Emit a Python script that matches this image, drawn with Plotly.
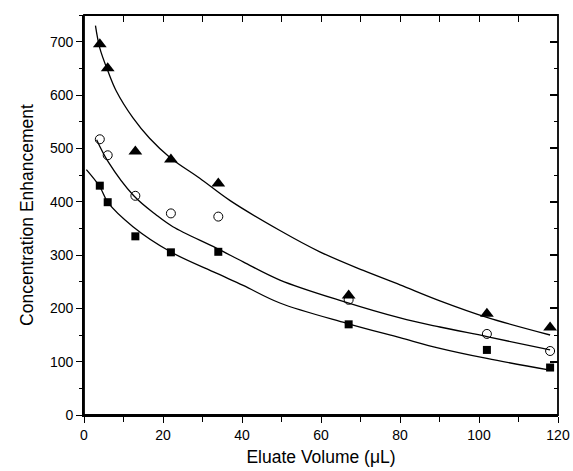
import plotly.graph_objects as go

# Measured points
vol = [4, 6, 13, 22, 34, 67, 102, 118]
tri_vals = [695, 650, 494, 479, 434, 224, 190, 164]
circ_vals = [517, 487, 411, 378, 372, 216, 152, 120]
sq_vals = [430, 399, 335, 305, 306, 170, 122, 89]

# Fitted curves
tri_fit_x = [2.9, 4.0, 6.1, 8.2, 12.4, 16.6, 21.9, 29.3, 37, 49.6, 59.7, 70.7, 80, 90.1, 102, 118]
tri_fit_y = [730, 688, 644, 607, 557, 519, 482, 444, 402, 346, 306, 271, 244, 214, 183, 150]
circ_fit_x = [3.2, 6.1, 12.6, 18.3, 22.5, 33.5, 40.3, 49.6, 65.6, 80, 90.1, 102, 118]
circ_fit_y = [516, 475, 411, 375, 353, 313, 287, 253, 213, 182, 165, 147, 122]
sq_fit_x = [0.6, 4.0, 6.1, 12.4, 21.9, 33.5, 40.3, 49.6, 66.5, 80, 90.1, 102, 118]
sq_fit_y = [460, 428, 398, 353, 306, 266, 243, 210, 172, 145, 125, 106, 84]

fig = go.Figure()

line_style = dict(color="black", width=1.3, shape="spline", smoothing=1.0)
for fx, fy in [(tri_fit_x, tri_fit_y), (circ_fit_x, circ_fit_y), (sq_fit_x, sq_fit_y)]:
    fig.add_trace(go.Scatter(x=fx, y=fy, mode="lines", line=line_style,
                             showlegend=False, hoverinfo="skip"))

fig.add_trace(go.Scatter(x=vol, y=tri_vals, mode="markers", showlegend=False,
                         marker=dict(symbol="triangle-up", size=12, color="black")))
fig.add_trace(go.Scatter(x=vol, y=circ_vals, mode="markers", showlegend=False,
                         marker=dict(symbol="circle-open", size=9, color="black",
                                     line=dict(width=1))))
fig.add_trace(go.Scatter(x=vol, y=sq_vals, mode="markers", showlegend=False,
                         marker=dict(symbol="square", size=8, color="black")))

# invisible trace to activate mirror axes
fig.add_trace(go.Scatter(x=[0], y=[0], xaxis="x2", yaxis="y2", mode="markers",
                         marker=dict(opacity=0), showlegend=False, hoverinfo="skip"))

tick_font = dict(family="Liberation Sans, Arial", size=14, color="black")
title_font = dict(family="Liberation Sans, Arial", size=17.5, color="black")

fig.update_layout(
    width=573, height=471,
    margin=dict(l=84, r=15, t=15, b=56),
    paper_bgcolor="white", plot_bgcolor="white",
    xaxis=dict(range=[0, 120], dtick=20, tick0=0, ticks="outside", ticklen=6, tickwidth=1.3,
               tickcolor="black", showline=True, linecolor="black", linewidth=1.8,
               showgrid=False, zeroline=False, tickfont=tick_font, automargin=False,
               minor=dict(dtick=10, ticks="outside", ticklen=5, tickwidth=1.3, tickcolor="black"),
               title=dict(text="Eluate Volume (μL)", font=title_font, standoff=9)),
    yaxis=dict(range=[0, 750], dtick=100, tick0=0, ticks="outside", ticklen=6, tickwidth=1.3,
               tickcolor="black", showline=True, linecolor="black", linewidth=1.8,
               showgrid=False, zeroline=False, tickfont=tick_font, automargin=False,
               minor=dict(dtick=50, ticks="outside", ticklen=3, tickwidth=1.3, tickcolor="black"),
               title=dict(text="Concentration Enhancement", font=title_font, standoff=12)),
    xaxis2=dict(overlaying="x", side="top", matches="x", range=[0, 120], dtick=10,
                ticks="inside", ticklen=7, tickwidth=1.3, tickcolor="black",
                showline=False, showticklabels=False,
                showgrid=False, zeroline=False, anchor="y2", automargin=False),
    yaxis2=dict(overlaying="y", side="right", matches="y", range=[0, 750], dtick=100,
                ticks="inside", ticklen=8, tickwidth=1.5, tickcolor="black",
                showline=False, showticklabels=False,
                minor=dict(dtick=50, ticks="inside", ticklen=4, tickwidth=1.3, tickcolor="black"),
                showgrid=False, zeroline=False, anchor="x2", automargin=False),
    shapes=[dict(type="rect", xref="paper", yref="paper", x0=0, x1=1, y0=0, y1=1,
                 line=dict(color="black", width=1.8), fillcolor="rgba(0,0,0,0)", layer="above")],
)

fig.write_html(
    "out.html",
    config={"displayModeBar": False},
    post_script="document.body.style.margin='0';document.body.style.overflow='hidden';",
)
